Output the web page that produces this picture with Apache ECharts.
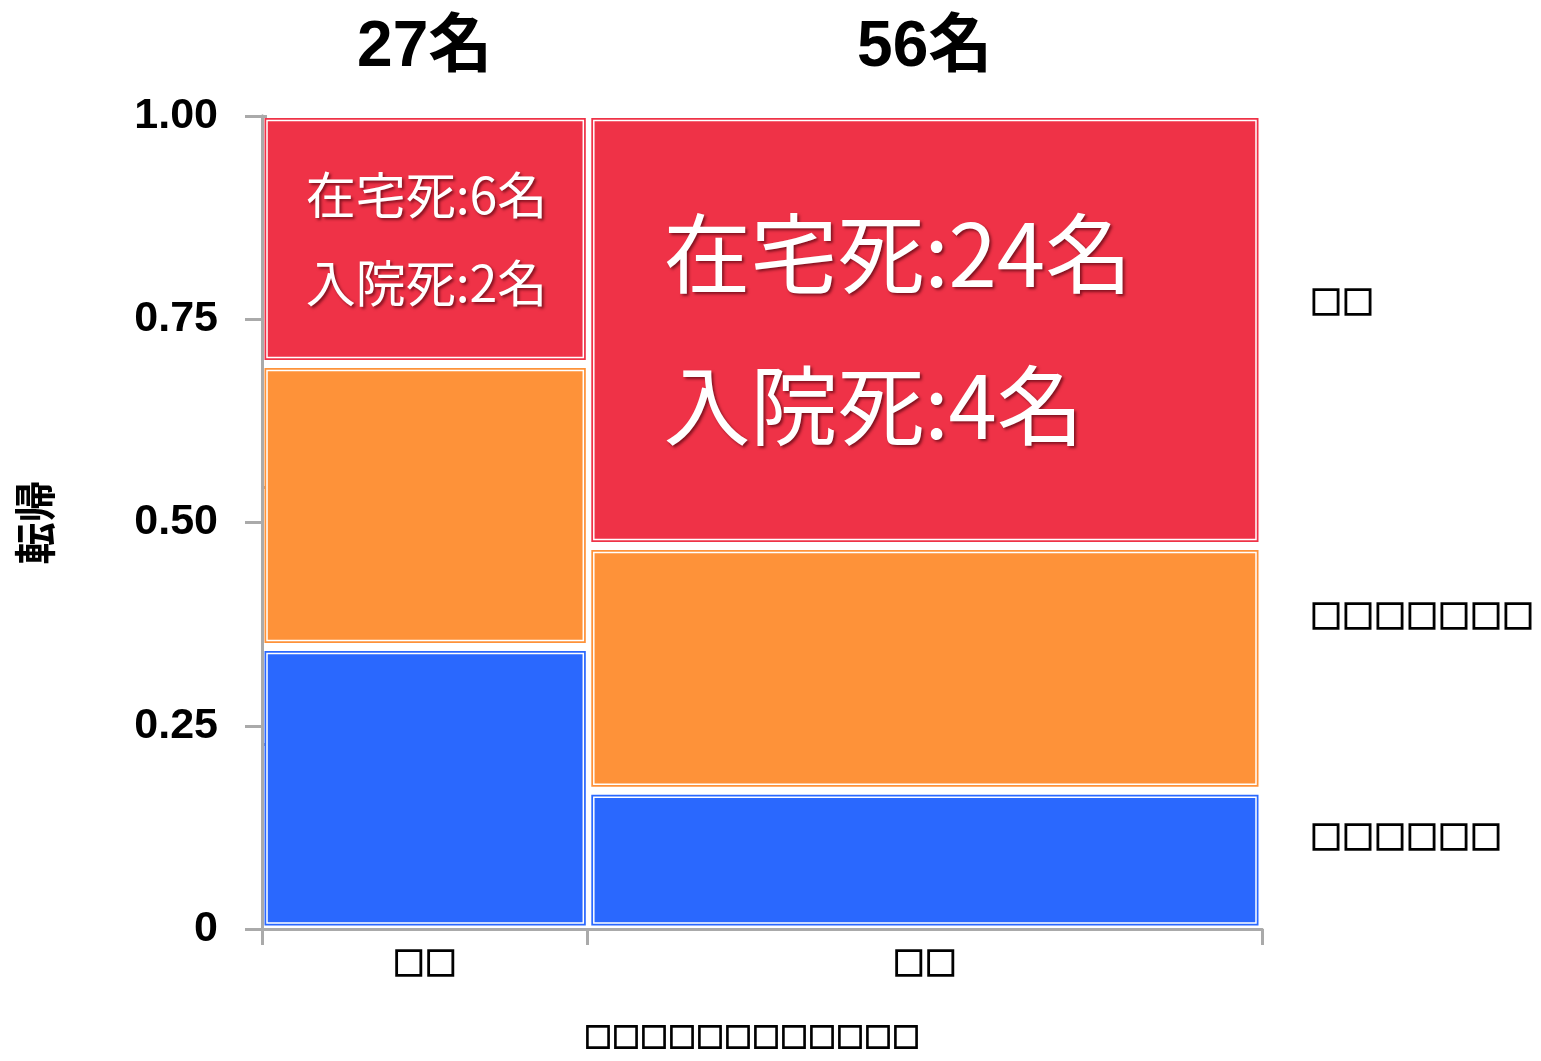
<!DOCTYPE html>
<html>
<head>
<meta charset="utf-8">
<script src="https://cdn.jsdelivr.net/npm/echarts@6/dist/echarts.min.js"></script>
<style>
html, body { margin: 0; padding: 0; background: #fff; }
#chart { width: 1541px; height: 1061px; }
</style>
</head>
<body>
<div id="chart"></div>
<script>
// columns (groups) and their sizes
const groups = ['□□', '□□'];
const groupN = [27, 56];
// outcomes, bottom to top
const outcomes = ['□□□□□□', '□□□□□□□', '□□'];
const outcomeColors = ['#2a68fe', '#fe9239', '#ef3247'];
// share of each outcome inside each column
const shareBlue = [0.347, 0.170];
const shareOrange = [0.348, 0.301];
const shareRed = [0.305, 0.529];
// deaths written in the red cells
const homeDeaths = [6, 24];
const hospDeaths = [2, 4];

const GRAY = '#aaaaaa';
const FONT = 'Liberation Sans, "Noto Sans CJK JP", sans-serif';
const CJK = '"Noto Sans CJK JP", sans-serif';
// the box glyphs in the original are heavy, so thicken them a bit
const boxText = { color: '#000', fontWeight: 'bold', fontFamily: CJK, textBorderColor: '#000', textBorderWidth: 1.4 };

const shares = [shareBlue, shareOrange, shareRed];
const total = groupN.reduce((a, b) => a + b, 0);

// build the mosaic cells
const cells = [];
const groupMid = [];
let xStart = 0;
groups.forEach((g, gi) => {
  let yStart = 0;
  shares.forEach((s, oi) => {
    const yEnd = Math.min(1, yStart + s[gi]);
    cells.push({ value: [xStart, xStart + groupN[gi], yStart, yEnd, oi, gi] });
    yStart = yEnd;
  });
  groupMid.push(xStart + groupN[gi] / 2);
  xStart += groupN[gi];
});
const groupEdges = [0];
groupN.forEach((n, i) => groupEdges.push(groupEdges[i] + n));

// marginal shares for the right axis
const bounds = [0];
const mids = [];
shares.forEach((s, oi) => {
  const m = s.reduce((acc, v, gi) => acc + v * groupN[gi], 0) / total;
  mids.push(bounds[oi] + m / 2);
  bounds.push(Math.min(1, bounds[oi] + m));
});

function nearest(arr, v) {
  let best = 0;
  arr.forEach((a, i) => { if (Math.abs(a - v) < Math.abs(arr[best] - v)) best = i; });
  return best;
}

function renderCell(params, api) {
  const x0 = api.value(0), x1 = api.value(1), y0 = api.value(2), y1 = api.value(3);
  const oi = api.value(4), gi = api.value(5);
  const tl = api.coord([x0, y1]);
  const br = api.coord([x1, y0]);
  const l = tl[0] + (x0 === 0 ? 2.5 : 4);
  const r = br[0] - (x1 === total ? 3.5 : 1.5);
  const t = tl[1] + (y1 >= 0.999 ? 2 : 4);
  const b = br[1] - (y0 <= 0.001 ? 3.5 : 4);
  const w = r - l, h = b - t;
  const color = outcomeColors[oi];
  const children = [
    { type: 'rect', shape: { x: l, y: t, width: w, height: h }, style: { fill: color } },
    { type: 'rect', shape: { x: l + 2.5, y: t + 2.5, width: w - 5, height: h - 5 },
      style: { fill: 'none', stroke: '#ffffff', lineWidth: 1.5 } }
  ];
  if (oi === 2) {
    const fs = Math.round(h * 0.205);
    children.push({
      type: 'text',
      style: {
        text: '在宅死:' + homeDeaths[gi] + '名\n入院死:' + hospDeaths[gi] + '名',
        x: l + h * 0.17,
        y: t + h * 0.5,
        fill: '#ffffff',
        font: fs + 'px ' + CJK,
        lineHeight: h * 0.36,
        align: 'left',
        verticalAlign: 'middle',
        textShadowColor: 'rgba(70,0,10,0.65)',
        textShadowBlur: 3,
        textShadowOffsetX: 2,
        textShadowOffsetY: 2
      }
    });
  }
  return { type: 'group', children };
}

const chart = echarts.init(document.getElementById('chart'));
chart.setOption({
  backgroundColor: '#ffffff',
  animation: false,
  grid: { left: 262, right: 279, top: 116, bottom: 132 },
  xAxis: [{
    type: 'value', min: 0, max: total, position: 'bottom',
    axisLine: { show: true, lineStyle: { color: GRAY, width: 3 } },
    axisTick: { show: true, length: 16, customValues: groupEdges, lineStyle: { color: GRAY, width: 3 } },
    axisLabel: Object.assign({
      customValues: groupMid, margin: 18,
      formatter: v => groups[nearest(groupMid, v)],
      fontSize: 32
    }, boxText),
    splitLine: { show: false },
    name: '□□□□□□□□□□□□', nameLocation: 'middle', nameGap: 94,
    nameTextStyle: Object.assign({ fontSize: 28, padding: [0, 20, 0, 0] }, boxText)
  }, {
    type: 'value', min: 0, max: total, position: 'top',
    axisLine: { show: true, lineStyle: { color: GRAY, width: 3 } },
    axisTick: { show: false },
    axisLabel: {
      customValues: groupMid, margin: 36,
      formatter: v => groupN[nearest(groupMid, v)] + '名',
      color: '#000', fontSize: 64, fontWeight: 'bold', fontFamily: FONT
    },
    splitLine: { show: false }
  }],
  yAxis: [{
    type: 'value', min: 0, max: 1, interval: 0.25, position: 'left',
    axisLine: { show: true, lineStyle: { color: GRAY, width: 3 } },
    axisTick: { show: true, length: 17, lineStyle: { color: GRAY, width: 3 } },
    axisLabel: {
      margin: 44, color: '#000', fontSize: 43, fontWeight: 'bold', fontFamily: FONT,
      formatter: v => (v === 0 ? '0' : v.toFixed(2))
    },
    splitLine: { show: false },
    name: '転帰', nameLocation: 'middle', nameGap: 206, nameRotate: 90,
    nameTextStyle: { color: '#000', fontSize: 42, fontWeight: 'bold', fontFamily: CJK }
  }, {
    type: 'value', min: 0, max: 1, position: 'right',
    axisLine: { show: true, lineStyle: { color: GRAY, width: 3 } },
    axisTick: { show: true, length: 5, customValues: bounds, lineStyle: { color: GRAY, width: 3 } },
    axisLabel: Object.assign({
      customValues: mids, margin: 48,
      formatter: v => outcomes[nearest(mids, v)],
      fontSize: 32
    }, boxText),
    splitLine: { show: false }
  }],
  series: [{
    type: 'custom',
    xAxisIndex: 0,
    yAxisIndex: 0,
    renderItem: renderCell,
    encode: { x: [0, 1], y: [2, 3] },
    data: cells
  }]
});
</script>
</body>
</html>
